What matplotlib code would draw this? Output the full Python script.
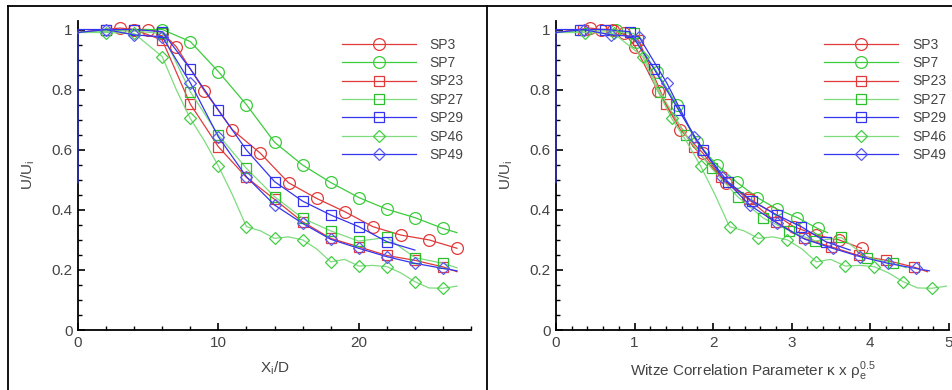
import numpy as np
import matplotlib.pyplot as plt
from matplotlib.lines import Line2D
from matplotlib.ticker import MultipleLocator, FormatStrFormatter

plt.rcParams['font.family'] = ['Liberation Sans', 'DejaVu Sans']

# --- data (x = X_i/D, y = U/U_i) ---
labels = ["SP3", "SP7", "SP23", "SP27", "SP29", "SP46", "SP49"]

sp3_x = [0, 1, 2, 3, 4, 5, 6, 7, 9, 11, 13, 15, 17, 19, 21, 23, 25, 27]
sp3_y = [0.99, 0.995, 1.0, 1.005, 1.0, 1.0, 0.99, 0.943, 0.796, 0.666, 0.588,
         0.49, 0.438, 0.394, 0.344, 0.316, 0.30, 0.272]

sp7_x = [0, 2, 4, 6, 8, 10, 12, 14, 16, 18, 20, 22, 24, 26, 27]
sp7_y = [0.99, 0.995, 1.0, 1.0, 0.96, 0.86, 0.75, 0.625, 0.549, 0.491, 0.441,
         0.402, 0.374, 0.338, 0.324]

sp23_x = [0, 2, 4, 6, 8, 10, 12, 14, 16, 18, 20, 22, 24, 26, 27]
sp23_y = [0.99, 1.0, 1.0, 0.965, 0.752, 0.61, 0.508, 0.435, 0.36, 0.305, 0.277,
          0.248, 0.232, 0.21, 0.194]

sp27_x = [0, 2, 4, 6, 8, 10, 12, 14, 16, 18, 20, 22, 24, 26, 27]
sp27_y = [0.99, 0.995, 0.995, 0.987, 0.793, 0.649, 0.538, 0.444, 0.372, 0.33,
          0.296, 0.308, 0.241, 0.222, 0.207]

sp29_x = [0, 0, 2, 4, 6, 8, 10, 12, 14, 16, 18, 20, 22, 24]
sp29_y = [0.49, 1.0, 1.0, 1.0, 0.993, 0.869, 0.732, 0.599, 0.494, 0.429, 0.383,
          0.344, 0.294, 0.266]

sp46_x = [0, 2, 4, 6, 7, 8, 9, 10, 11, 12, 13, 14, 15, 16, 17, 18, 19, 20, 21,
          22, 23, 24, 25, 26, 27]
sp46_y = [0.99, 0.99, 0.987, 0.91, 0.80, 0.704, 0.63, 0.546, 0.45, 0.344, 0.33,
          0.305, 0.31, 0.30, 0.27, 0.227, 0.235, 0.213, 0.215, 0.211, 0.19,
          0.161, 0.14, 0.139, 0.146]

sp49_x = [0, 2, 4, 6, 8, 10, 12, 14, 16, 18, 20, 22, 24, 26, 27]
sp49_y = [0.99, 1.0, 0.982, 0.976, 0.823, 0.643, 0.51, 0.416, 0.355, 0.302,
          0.272, 0.244, 0.222, 0.205, 0.197]

# Witze scale factor per case (right panel x = X_i/D * factor)
witze_k = [0.144, 0.128, 0.175, 0.165, 0.156, 0.184, 0.176]

xs = [sp3_x, sp7_x, sp23_x, sp27_x, sp29_x, sp46_x, sp49_x]
ys = [sp3_y, sp7_y, sp23_y, sp27_y, sp29_y, sp46_y, sp49_y]

# --- styles ---
red, green, lgreen, blue = "#e23a3a", "#3ccc3c", "#7edc7e", "#3434ee"
styles = [
    dict(color=red, mec=red, marker="o", ms=8.5, mark=range(3, 18)),
    dict(color=green, mec=green, marker="o", ms=8.5, mark=range(3, 14)),
    dict(color=red, mec=red, marker="s", ms=7, mark=range(1, 14)),
    dict(color=lgreen, mec="#2cbf2c", marker="s", ms=7, mark=range(3, 14)),
    dict(color=blue, mec=blue, marker="s", ms=7, mark=range(2, 13)),
    dict(color=lgreen, mec="#44cc44", marker="D", ms=6,
         mark=[1, 2, 3, 5, 7, 9, 11, 13, 15, 17, 19, 21, 23]),
    dict(color=blue, mec="#5a5af2", marker="D", ms=6, mark=range(1, 14)),
]

txt = "#444444"
fig = plt.figure(figsize=(9.52, 3.9), dpi=100)
axl = fig.add_axes([0.0819, 0.1538, 0.4129, 0.7936])
axr = fig.add_axes([0.584, 0.1538, 0.4128, 0.7936])

for ax, right in [(axl, False), (axr, True)]:
    for i, lab in enumerate(labels):
        st = styles[i]
        x = np.array(xs[i], dtype=float)
        if right:
            x = x * witze_k[i]
        ax.plot(x, ys[i], color=st["color"], lw=0.9, marker=st["marker"],
                ms=st["ms"], mfc="none", mec=st["mec"], mew=0.9,
                markevery=list(st["mark"]), label=lab, zorder=3,
                clip_on=False)
    ax.set_ylim(0, 1.03)
    ax.yaxis.set_major_locator(MultipleLocator(0.2))
    ax.yaxis.set_minor_locator(MultipleLocator(0.05))
    ax.yaxis.set_major_formatter(FormatStrFormatter("%g"))
    for side in ["top", "right"]:
        ax.spines[side].set_visible(False)
    for side in ["left", "bottom"]:
        ax.spines[side].set_linewidth(1.3)
    ax.tick_params(which="major", direction="in", length=5, width=1.2,
                   labelsize=11, labelcolor=txt, pad=4)
    ax.tick_params(which="minor", direction="in", length=3, width=1.0)
    ax.set_ylabel("U/U$_\\mathregular{i}$", fontsize=11, color=txt, labelpad=10)
    leg = ax.legend(loc="upper left", frameon=False, fontsize=10,
                    bbox_to_anchor=(0.672 if not right else 0.683, 0.945),
                    handlelength=5.3, handletextpad=1.0, labelspacing=0.32,
                    borderaxespad=0, borderpad=0)
    for t in leg.get_texts():
        t.set_color(txt)

axl.set_xlim(0, 28)
axl.xaxis.set_major_locator(MultipleLocator(10))
axl.xaxis.set_minor_locator(MultipleLocator(2))
axl.set_xlabel("X$_\\mathregular{i}$/D", fontsize=11, color=txt, labelpad=7)

axr.set_xlim(0, 5)
axr.xaxis.set_major_locator(MultipleLocator(1))
axr.xaxis.set_minor_locator(MultipleLocator(0.2))
axr.set_xlabel("Witze Correlation Parameter \u03ba x \u03c1$_\\mathregular{e}^\\mathregular{0.5}$",
               fontsize=11, color=txt, labelpad=7)

# panel frames
fig.add_artist(Line2D([0.0084, 0.0084], [0, 0.985], color="black", lw=1.3))
fig.add_artist(Line2D([0.0084, 1.0], [0.985, 0.985], color="black", lw=1.3))
fig.add_artist(Line2D([0.5115, 0.5115], [0, 0.985], color="black", lw=1.3))

fig.savefig("out.png", dpi=100)
